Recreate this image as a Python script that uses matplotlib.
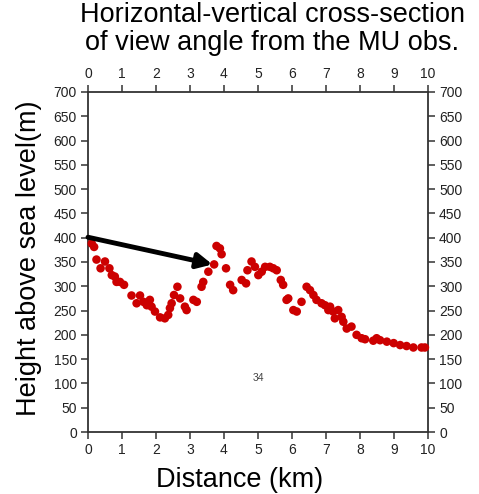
import matplotlib
matplotlib.use("Agg")
import matplotlib.pyplot as plt

plt.rcParams["font.family"] = ["Liberation Sans", "DejaVu Sans"]

# distance (km) and height (m)
dist_km = [0.11, 0.18, 0.25, 0.37, 0.50, 0.63, 0.70, 0.79, 0.84, 0.94, 1.06,
           1.28, 1.43, 1.53, 1.63, 1.73, 1.82, 1.87, 1.97, 2.12, 2.26, 2.36,
           2.41, 2.46, 2.53, 2.63, 2.71, 2.85, 2.90, 3.10, 3.20, 3.34, 3.39,
           3.54, 3.71, 3.78, 3.88, 3.93, 4.06, 4.18, 4.27, 4.52, 4.65, 4.69,
           4.81, 4.91, 5.01, 5.11, 5.21, 5.35, 5.45, 5.55, 5.67, 5.74, 5.84,
           5.89, 6.04, 6.14, 6.28, 6.43, 6.53, 6.63, 6.72, 6.87, 6.97, 7.07,
           7.12, 7.21, 7.26, 7.36, 7.46, 7.51, 7.61, 7.75, 7.90, 8.05, 8.15,
           8.39, 8.49, 8.59, 8.79, 8.99, 9.18, 9.37, 9.57, 9.81, 9.91]
height_m = [388, 381, 355, 337, 351, 337, 323, 320, 309, 309, 303,
            281, 265, 281, 268, 261, 272, 258, 248, 236, 234, 241,
            255, 265, 282, 299, 275, 258, 251, 272, 268, 299, 309,
            330, 345, 383, 378, 366, 337, 303, 292, 313, 306, 333,
            351, 340, 323, 330, 340, 340, 337, 333, 313, 303, 272,
            275, 251, 248, 268, 299, 292, 282, 272, 265, 261, 251,
            258, 248, 234, 251, 237, 227, 213, 217, 200, 193, 191,
            188, 193, 189, 186, 183, 179, 177, 174, 174, 174]

arrow_start = (0.0, 401)
arrow_end = (3.66, 345)

x_ticks = list(range(0, 11))
y_ticks = list(range(0, 701, 50))

fig = plt.figure(figsize=(4.79, 4.94), dpi=100)
ax = fig.add_axes([0.1837, 0.1255, 0.7098, 0.6883])

ax.scatter(dist_km, height_m, s=38, color="#cc0000", edgecolors="none",
           zorder=3, clip_on=False)

ax.annotate("", xy=arrow_end, xytext=arrow_start,
            arrowprops=dict(arrowstyle="-|>,head_length=0.9,head_width=0.45",
                            color="black", lw=3.5, shrinkA=0, shrinkB=0),
            zorder=4)

ax.text(5.0, 111, "34", fontsize=7.5, color="#444444", ha="center", va="center")

ax.set_xlim(0, 10)
ax.set_ylim(0, 700)
ax.set_xticks(x_ticks)
ax.set_yticks(y_ticks)
ax.tick_params(direction="out", length=5, width=1.1, color="#333333",
               labelsize=10, labelcolor="#222222", pad=3,
               top=True, right=True, labeltop=True, labelright=True)
for sp in ax.spines.values():
    sp.set_linewidth(1.3)
    sp.set_color("#333333")

# titles and axis labels placed by figure fraction
fig.text(0.568, 0.9555, "Horizontal-vertical cross-section", fontsize=19.5,
         ha="center", va="baseline")
fig.text(0.568, 0.899, "of view angle from the MU obs.", fontsize=19.5,
         ha="center", va="baseline")
fig.text(0.501, 0.014, "Distance (km)", fontsize=19.5, ha="center",
         va="baseline")
fig.text(0.0605, 0.478, "Height above sea level(m)", fontsize=19.5,
         rotation=90, ha="center", va="center")

fig.savefig("out.png", dpi=100)
